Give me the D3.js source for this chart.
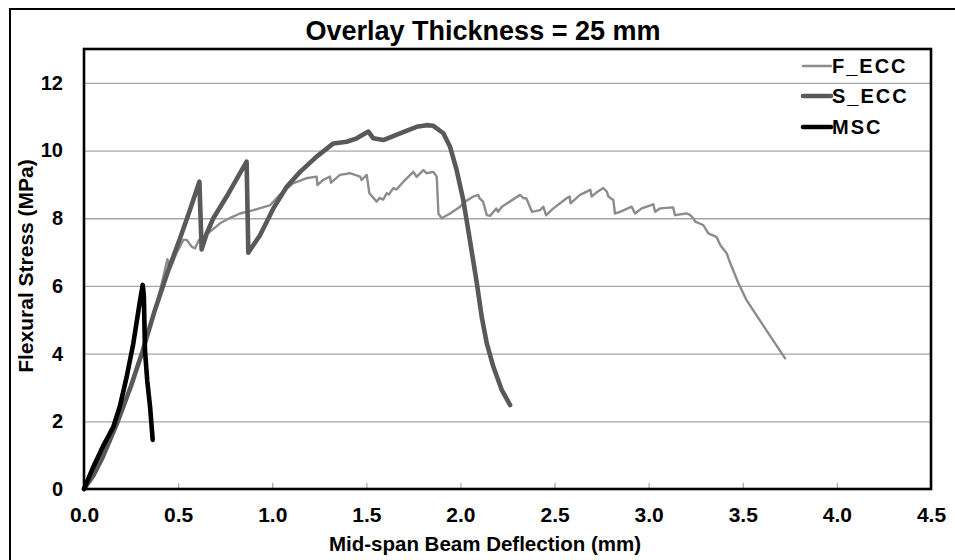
<!DOCTYPE html>
<html>
<head>
<meta charset="utf-8">
<script src="https://cdn.jsdelivr.net/npm/d3@7"></script>
<style>
  html, body { margin: 0; padding: 0; background: #fff; }
  svg text { font-family: "Liberation Sans", Arial, sans-serif; font-weight: bold; fill: #000; }
</style>
</head>
<body>
<svg id="chart" width="955" height="560"></svg>
<script>
// Load-deflection curves, 25 mm overlay: [deflection (mm), flexural stress (MPa)]
const fEcc = [
  [0,0],[0.05,0.4],[0.1,0.95],[0.18,2.0],[0.25,3.0],[0.31,4.0],[0.377,5.29],[0.41,6.0],
  [0.443,6.79],[0.457,6.5],[0.49,6.95],[0.528,7.36],[0.546,7.36],[0.572,7.16],[0.59,7.11],
  [0.61,7.35],[0.634,7.45],[0.68,7.65],[0.723,7.85],[0.78,8.02],[0.829,8.14],[0.9,8.24],
  [0.99,8.39],[1.04,8.69],[1.11,9.03],[1.18,9.18],[1.236,9.23],[1.24,8.98],[1.27,9.13],
  [1.307,9.23],[1.312,9.05],[1.36,9.28],[1.413,9.33],[1.467,9.23],[1.475,9.13],[1.502,9.28],
  [1.516,8.74],[1.555,8.49],[1.57,8.6],[1.59,8.55],[1.608,8.74],[1.62,8.7],[1.643,8.89],
  [1.66,8.85],[1.697,9.08],[1.75,9.37],[1.767,9.22],[1.803,9.42],[1.82,9.33],[1.856,9.37],
  [1.874,9.23],[1.883,8.14],[1.9,8.0],[1.945,8.14],[1.998,8.34],[2.024,8.49],[2.069,8.64],
  [2.095,8.69],[2.1,8.6],[2.12,8.49],[2.14,8.09],[2.157,8.07],[2.19,8.29],[2.2,8.19],
  [2.22,8.34],[2.317,8.69],[2.335,8.59],[2.35,8.59],[2.38,8.19],[2.423,8.24],[2.44,8.34],
  [2.455,8.09],[2.494,8.29],[2.564,8.59],[2.58,8.64],[2.585,8.44],[2.635,8.69],[2.69,8.84],
  [2.697,8.64],[2.72,8.75],[2.759,8.89],[2.777,8.79],[2.786,8.64],[2.812,8.54],[2.821,8.14],
  [2.848,8.19],[2.91,8.34],[2.928,8.14],[2.963,8.29],[3.025,8.41],[3.034,8.19],[3.06,8.29],
  [3.13,8.32],[3.14,8.09],[3.2,8.14],[3.22,8.1],[3.237,8.0],[3.247,7.9],[3.29,7.8],
  [3.317,7.55],[3.36,7.45],[3.38,7.21],[3.415,6.96],[3.43,6.72],[3.477,6.08],[3.52,5.58],
  [3.59,4.99],[3.66,4.4],[3.725,3.86]
];
const sEcc = [
  [0,0],[0.05,0.4],[0.1,0.95],[0.18,2.0],[0.25,3.05],[0.31,4.05],[0.377,5.29],[0.45,6.5],
  [0.51,7.4],[0.56,8.2],[0.613,9.08],[0.625,7.08],[0.652,7.55],[0.687,8.0],[0.758,8.64],
  [0.81,9.15],[0.864,9.67],[0.873,6.98],[0.935,7.5],[1.006,8.29],[1.077,8.93],[1.148,9.37],
  [1.236,9.82],[1.325,10.21],[1.396,10.26],[1.449,10.36],[1.511,10.56],[1.537,10.36],
  [1.59,10.31],[1.679,10.51],[1.767,10.7],[1.82,10.75],[1.856,10.73],[1.909,10.51],
  [1.945,10.11],[1.98,9.42],[2.015,8.54],[2.05,7.36],[2.087,6.08],[2.113,5.09],[2.14,4.3],
  [2.175,3.61],[2.22,2.92],[2.264,2.48]
];
const msc = [
  [0,0],[0.05,0.66],[0.1,1.25],[0.156,1.84],[0.19,2.43],[0.227,3.32],[0.262,4.3],
  [0.298,5.58],[0.312,6.03],[0.318,5.7],[0.324,4.1],[0.336,3.2],[0.351,2.43],[0.365,1.45]
];

const seriesNames = ["F_ECC", "S_ECC", "MSC"];
const xTicks = [0, 0.5, 1.0, 1.5, 2.0, 2.5, 3.0, 3.5, 4.0, 4.5];
const yTicks = [0, 2, 4, 6, 8, 10, 12];

const titleText = "Overlay Thickness = 25 mm";
const xTitle = "Mid-span Beam Deflection (mm)";
const yTitle = "Flexural Stress (MPa)";

const svg = d3.select("#chart");
const plotL = 84, plotR = 931, plotT = 49, plotB = 489;

const x = d3.scaleLinear().domain([0, 4.5]).range([plotL, plotR]);
const y = d3.scaleLinear().domain([0, 13]).range([plotB, plotT]);

// outer frame (left and top edges)
svg.append("path")
  .attr("d", `M10,560 L10,9 L955,9`)
  .attr("fill", "none").attr("stroke", "#000").attr("stroke-width", 2);

// horizontal gridlines
svg.append("g").attr("class", "grid")
  .attr("transform", `translate(${plotL},0)`)
  .call(d3.axisLeft(y).tickValues(yTicks.filter(d => d > 0)).tickSize(-(plotR - plotL)).tickFormat(""))
  .call(g => g.select(".domain").remove())
  .call(g => g.selectAll("line").attr("stroke", "#a6a6a6").attr("stroke-width", 1.3));

// small ticks along the x axis, pointing into the plot
svg.append("g")
  .attr("transform", `translate(0,${plotB})`)
  .call(d3.axisTop(x).tickValues(xTicks).tickSize(6).tickFormat(""))
  .call(g => g.select(".domain").remove())
  .call(g => g.selectAll("line").attr("stroke", "#a6a6a6").attr("stroke-width", 1.2));

// x tick labels
svg.append("g")
  .attr("transform", `translate(0,${plotB})`)
  .call(d3.axisBottom(x).tickValues(xTicks).tickSize(0).tickPadding(18).tickFormat(d3.format(".1f")))
  .call(g => g.select(".domain").remove())
  .call(g => g.selectAll("text").attr("font-size", 21).attr("font-family", "'Liberation Sans', Arial, sans-serif").attr("font-weight", "bold").attr("fill", "#000"));

// y tick labels
svg.append("g")
  .attr("transform", `translate(${plotL},0)`)
  .call(d3.axisLeft(y).tickValues(yTicks).tickSize(0).tickPadding(21).tickFormat(d3.format("d")))
  .call(g => g.select(".domain").remove())
  .call(g => g.selectAll("text").attr("font-size", 20).attr("font-family", "'Liberation Sans', Arial, sans-serif").attr("font-weight", "bold").attr("fill", "#000"));

// data curves
const line = d3.line().x(d => x(d[0])).y(d => y(d[1]));
const styles = [
  { data: fEcc, color: "#8c8c8c", width: 2.4 },
  { data: sEcc, color: "#595959", width: 4.6 },
  { data: msc,  color: "#000000", width: 4.6 }
];
svg.append("g").selectAll("path")
  .data(styles)
  .join("path")
  .attr("d", d => line(d.data))
  .attr("fill", "none")
  .attr("stroke", d => d.color)
  .attr("stroke-width", d => d.width)
  .attr("stroke-linejoin", "round")
  .attr("stroke-linecap", "round");

// plot area border
svg.append("rect")
  .attr("x", plotL).attr("y", plotT)
  .attr("width", plotR - plotL).attr("height", plotB - plotT)
  .attr("fill", "none").attr("stroke", "#000").attr("stroke-width", 2.6);

// legend
const legendY = [66, 96, 127];
const legend = svg.append("g");
seriesNames.forEach((name, i) => {
  legend.append("line")
    .attr("x1", 803).attr("x2", 831)
    .attr("y1", legendY[i]).attr("y2", legendY[i])
    .attr("stroke", styles[i].color)
    .attr("stroke-width", styles[i].width)
    .attr("stroke-linecap", "round");
  legend.append("text")
    .attr("x", 832).attr("y", legendY[i] + 7)
    .attr("font-size", 20).attr("letter-spacing", 2)
    .text(name);
});

// titles
svg.append("text")
  .attr("x", 483).attr("y", 40).attr("text-anchor", "middle")
  .attr("font-size", 27)
  .text(titleText);

svg.append("text")
  .attr("x", 485).attr("y", 551).attr("text-anchor", "middle")
  .attr("font-size", 20.5)
  .text(xTitle);

svg.append("text")
  .attr("transform", `translate(33,266) rotate(-90)`)
  .attr("text-anchor", "middle")
  .attr("font-size", 21)
  .text(yTitle);
</script>
</body>
</html>
